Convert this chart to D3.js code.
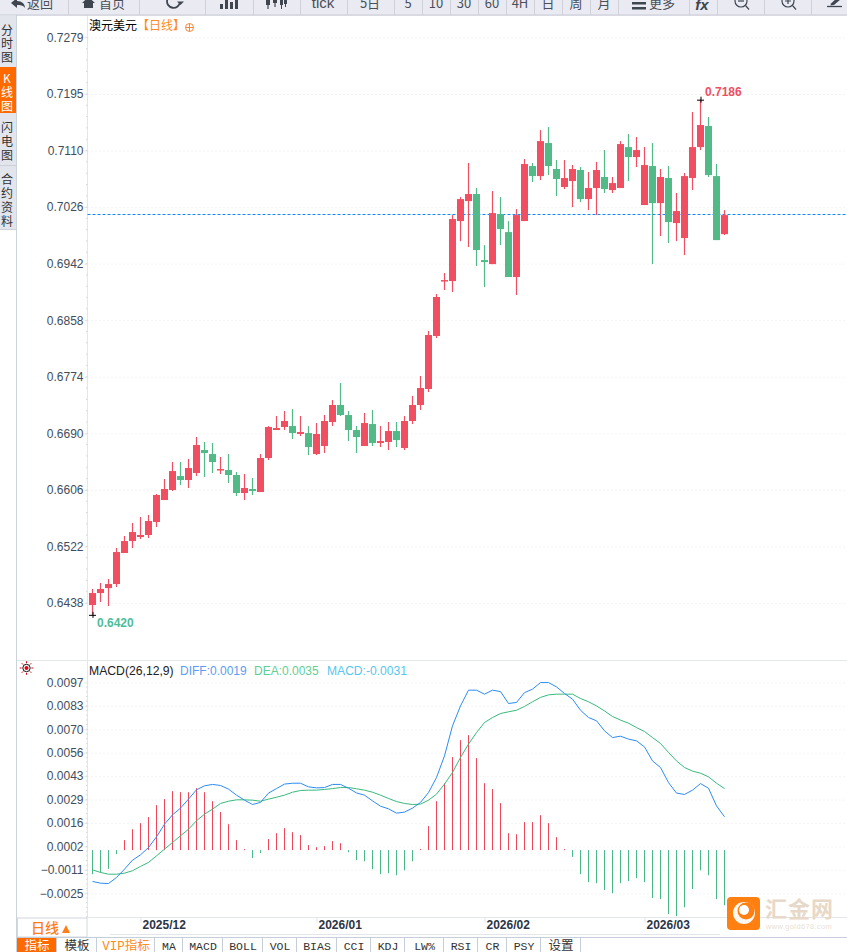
<!DOCTYPE html>
<html>
<head>
<meta charset="utf-8">
<title>澳元美元 日线</title>
<script src="https://cdn.jsdelivr.net/npm/d3@7/dist/d3.min.js"></script>
<style>
    html, body { margin: 0; padding: 0; background: #fff; overflow: hidden; }
    svg { display: block; }
    text { font-family: "Liberation Sans", Arial, sans-serif; }
    .cjk { font-family: "Noto Sans CJK SC", sans-serif; }
    .mono { font-family: "Liberation Mono", "Noto Sans CJK SC", monospace; }
    .axis path, .axis line { stroke: #dfe3e8; }
    .axis text { fill: #3f4d5c; font-size: 12px; font-family: "Liberation Sans", Arial, sans-serif; }
    .grid line { stroke: #e9e9e9; stroke-dasharray: 1 3; }
</style>
</head>
<body>
<svg id="chart" width="847" height="952"></svg>
<script>
document.addEventListener("DOMContentLoaded", function () {
    // values, one entry per trading day
    var opens = [0.64346, 0.64524, 0.64598, 0.64658, 0.65119, 0.65297, 0.65357, 0.65387, 0.65580, 0.65907,
        0.66056, 0.66264, 0.66205, 0.66309, 0.66651, 0.66591, 0.66353, 0.66353, 0.66279, 0.66011,
        0.66071, 0.66026, 0.66532, 0.66948, 0.66993, 0.67007, 0.66889, 0.66903, 0.66591, 0.66710,
        0.67067, 0.67320, 0.67171, 0.66948, 0.66710, 0.67037, 0.66755, 0.66770, 0.66933, 0.66680,
        0.67082, 0.67320, 0.67558, 0.68346, 0.69163, 0.69163, 0.70055, 0.70352, 0.70457, 0.69475,
        0.69415, 0.70159, 0.69891, 0.69223, 0.70055, 0.70873, 0.70724, 0.71215, 0.70829, 0.70561,
        0.70650, 0.70814, 0.70382, 0.70546, 0.70710, 0.70516, 0.70546, 0.71155, 0.71007, 0.70293,
        0.70873, 0.70322, 0.70695, 0.70025, 0.69802, 0.70695, 0.71155, 0.71468, 0.70724, 0.69861];
    var closes = [0.64524, 0.64584, 0.64658, 0.65134, 0.65297, 0.65431, 0.65387, 0.65595, 0.65982, 0.66071,
        0.66338, 0.66205, 0.66383, 0.66725, 0.66606, 0.66472, 0.66368, 0.66279, 0.66011, 0.66086,
        0.66041, 0.66532, 0.66993, 0.66978, 0.67082, 0.66903, 0.66918, 0.66695, 0.66889, 0.67082,
        0.67320, 0.67171, 0.66948, 0.66844, 0.67052, 0.66755, 0.66784, 0.66933, 0.66799, 0.67082,
        0.67320, 0.67573, 0.68361, 0.68926, 0.69178, 0.70085, 0.70382, 0.70457, 0.69624, 0.69445,
        0.70174, 0.69936, 0.69223, 0.70144, 0.70903, 0.70724, 0.71244, 0.70873, 0.70680, 0.70695,
        0.70829, 0.70382, 0.70546, 0.70814, 0.70531, 0.70620, 0.71200, 0.71007, 0.71111, 0.70888,
        0.70322, 0.70710, 0.70040, 0.70204, 0.70724, 0.71155, 0.71483, 0.70739, 0.69772, 0.70144];
    var highs = [0.64584, 0.64673, 0.64732, 0.65193, 0.65372, 0.65565, 0.65654, 0.65684, 0.65997, 0.66219,
        0.66472, 0.66472, 0.66517, 0.66844, 0.66770, 0.66755, 0.66547, 0.66591, 0.66324, 0.66294,
        0.66234, 0.66591, 0.67007, 0.67156, 0.67230, 0.67260, 0.67156, 0.67007, 0.67052, 0.67171,
        0.67394, 0.67647, 0.67230, 0.67007, 0.67201, 0.67245, 0.67007, 0.67067, 0.67067, 0.67156,
        0.67454, 0.67751, 0.68420, 0.68970, 0.69282, 0.70144, 0.70412, 0.70918, 0.70546, 0.69698,
        0.70501, 0.70412, 0.70055, 0.70233, 0.70977, 0.70918, 0.71408, 0.71453, 0.70962, 0.70962,
        0.70888, 0.70858, 0.70784, 0.70933, 0.71111, 0.70710, 0.71244, 0.71349, 0.71304, 0.71155,
        0.71215, 0.70829, 0.70873, 0.70472, 0.70769, 0.71676, 0.71860, 0.71602, 0.70903, 0.70218];
    var lows = [0.64200, 0.64390, 0.64331, 0.64613, 0.65119, 0.65193, 0.65327, 0.65342, 0.65506, 0.65907,
        0.66041, 0.66130, 0.66086, 0.66264, 0.66249, 0.66309, 0.66294, 0.66160, 0.65967, 0.65907,
        0.65982, 0.66026, 0.66502, 0.66948, 0.66948, 0.66814, 0.66859, 0.66576, 0.66576, 0.66606,
        0.67007, 0.67156, 0.66784, 0.66606, 0.66710, 0.66710, 0.66695, 0.66651, 0.66695, 0.66651,
        0.67037, 0.67245, 0.67513, 0.68316, 0.69030, 0.69000, 0.69757, 0.69668, 0.69386, 0.69074,
        0.69415, 0.69698, 0.69223, 0.68955, 0.70055, 0.70635, 0.70665, 0.70739, 0.70427, 0.70531,
        0.70263, 0.70337, 0.70218, 0.70144, 0.70472, 0.70472, 0.70546, 0.70650, 0.70858, 0.70293,
        0.69415, 0.69832, 0.69728, 0.69757, 0.69549, 0.70516, 0.71111, 0.70710, 0.69772, 0.69847];

    var diffValues = [-0.00181, -0.00191, -0.00193, -0.00158, -0.00110, -0.00058, -0.00027, 0.00015, 0.00077, 0.00150,
        0.00204, 0.00243, 0.00295, 0.00349, 0.00372, 0.00380, 0.00374, 0.00353, 0.00318, 0.00289,
        0.00264, 0.00276, 0.00330, 0.00356, 0.00382, 0.00387, 0.00387, 0.00366, 0.00360, 0.00362,
        0.00380, 0.00380, 0.00358, 0.00331, 0.00318, 0.00285, 0.00254, 0.00239, 0.00214, 0.00220,
        0.00243, 0.00276, 0.00333, 0.00420, 0.00545, 0.00719, 0.00834, 0.00925, 0.00925, 0.00902,
        0.00925, 0.00917, 0.00848, 0.00854, 0.00911, 0.00931, 0.00969, 0.00969, 0.00944, 0.00906,
        0.00873, 0.00809, 0.00767, 0.00748, 0.00690, 0.00651, 0.00659, 0.00642, 0.00632, 0.00597,
        0.00516, 0.00478, 0.00391, 0.00330, 0.00322, 0.00347, 0.00385, 0.00358, 0.00256, 0.00193];
    var deaValues = [-0.00114, -0.00129, -0.00139, -0.00139, -0.00133, -0.00119, -0.00094, -0.00071, -0.00033, 0.00006,
        0.00044, 0.00083, 0.00121, 0.00170, 0.00208, 0.00237, 0.00270, 0.00283, 0.00291, 0.00291,
        0.00289, 0.00283, 0.00295, 0.00306, 0.00318, 0.00335, 0.00345, 0.00347, 0.00347, 0.00351,
        0.00356, 0.00362, 0.00362, 0.00355, 0.00347, 0.00335, 0.00318, 0.00299, 0.00281, 0.00270,
        0.00264, 0.00266, 0.00289, 0.00324, 0.00382, 0.00449, 0.00536, 0.00613, 0.00680, 0.00738,
        0.00767, 0.00790, 0.00800, 0.00809, 0.00831, 0.00858, 0.00883, 0.00898, 0.00902, 0.00902,
        0.00902, 0.00877, 0.00858, 0.00834, 0.00805, 0.00773, 0.00752, 0.00734, 0.00709, 0.00686,
        0.00651, 0.00617, 0.00565, 0.00516, 0.00478, 0.00457, 0.00445, 0.00424, 0.00387, 0.00356];
    var macdValues = [-0.00139, -0.00129, -0.00108, -0.00023, 0.00058, 0.00121, 0.00156, 0.00191, 0.00260, 0.00295,
        0.00341, 0.00335, 0.00335, 0.00358, 0.00335, 0.00283, 0.00220, 0.00150, 0.00058, 0.00006,
        -0.00046, -0.00017, 0.00064, 0.00098, 0.00127, 0.00104, 0.00087, 0.00029, 0.00017, 0.00023,
        0.00052, 0.00040, -0.00012, -0.00058, -0.00064, -0.00110, -0.00139, -0.00133, -0.00145, -0.00116,
        -0.00064, 0.00006, 0.00139, 0.00283, 0.00387, 0.00538, 0.00636, 0.00665, 0.00532, 0.00387,
        0.00353, 0.00272, 0.00098, 0.00092, 0.00162, 0.00162, 0.00202, 0.00156, 0.00075, 0.00006,
        -0.00039, -0.00139, -0.00185, -0.00191, -0.00231, -0.00249, -0.00191, -0.00179, -0.00162, -0.00185,
        -0.00277, -0.00283, -0.00370, -0.00382, -0.00330, -0.00225, -0.00116, -0.00145, -0.00283, -0.00318];

    var priceTicks = [0.72786, 0.71945, 0.71104, 0.70263, 0.69422, 0.68581, 0.6774, 0.66899, 0.66058, 0.65217, 0.64376];
    var macdTicks = [0.0097, 0.008345, 0.00699, 0.005635, 0.00428, 0.002925, 0.00157, 0.000215, -0.00114, -0.002495];
    var dateTickIndex = [6, 28, 49, 69];
    var dateLabels = ["2025/12", "2026/01", "2026/02", "2026/03"];
    var lastPrice = 0.70144;
    var maxPrice = 0.7186;
    var minPrice = 0.6420;

    var toolbarEdges = [0, 68, 139, 205, 253, 300, 347, 394, 422, 450, 478, 506, 534, 562, 590, 618, 689, 717, 764, 811, 847];
    var toolbarLabels = [
        { x: 40, t: "返回" }, { x: 112, t: "首页" }, { x: 323, t: "tick", size: 15, latin: true },
        { x: 370, t: "5日" }, { x: 408, t: "5" }, { x: 436, t: "10" }, { x: 464, t: "30" }, { x: 492, t: "60" },
        { x: 520, t: "4H" }, { x: 548, t: "日" }, { x: 576, t: "周" }, { x: 604, t: "月" }, { x: 662, t: "更多" }
    ];
    var tabEdges = [17, 57, 97, 155, 183, 223, 263, 297, 337, 371, 405, 444, 478, 507, 541, 581];
    var tabLabels = ["指标", "模板", "VIP指标", "MA", "MACD", "BOLL", "VOL", "BIAS", "CCI", "KDJ", "LW%", "RSI", "CR", "PSY", "设置"];

    var red = "#ef4f60";
    var green = "#52ba87";
    var orange = "#ff6a00";
    var axisX = 87.5;
    var rightX = 847;

    var svg = d3.select("#chart");

    var x = d3.scaleLinear().domain([0, 79]).range([92.5, 724.5]);
    var yPrice = d3.scaleLinear().domain([0.64376, 0.72786]).range([603, 37.4]);
    var yMacd = d3.scaleLinear().domain([-0.002495, 0.0097]).range([893.3, 682.4]);

    // Grids
    svg.append("g").attr("class", "grid")
        .call(d3.axisLeft(yPrice).tickValues(priceTicks).tickSize(-(rightX - axisX)).tickFormat(""))
        .attr("transform", "translate(" + axisX + ",0)")
        .select(".domain").remove();
    svg.append("g").attr("class", "grid")
        .call(d3.axisLeft(yMacd).tickValues(macdTicks).tickSize(-(rightX - axisX)).tickFormat(""))
        .attr("transform", "translate(" + axisX + ",0)")
        .select(".domain").remove();

    // Panel frame lines
    var frame = svg.append("g").attr("stroke", "#e3e7ec").attr("fill", "none");
    frame.append("line").attr("x1", axisX).attr("x2", axisX).attr("y1", 15).attr("y2", 917);
    frame.append("line").attr("x1", 17).attr("x2", rightX).attr("y1", 660.5).attr("y2", 660.5);
    frame.append("line").attr("x1", 87).attr("x2", rightX).attr("y1", 917.5).attr("y2", 917.5);
    frame.append("line").attr("x1", 110).attr("x2", 720).attr("y1", 934.5).attr("y2", 934.5);
    svg.append("line").attr("x1", 16.5).attr("x2", 16.5).attr("y1", 15).attr("y2", 952).attr("stroke", "#cdd3db");

    // Y Axes
    svg.append("g").attr("class", "axis")
        .attr("transform", "translate(" + axisX + ",0)")
        .call(d3.axisLeft(yPrice).tickValues(priceTicks).tickSize(3).tickPadding(1).tickFormat(d3.format(".4f")))
        .select(".domain").remove();
    svg.append("g").attr("class", "axis")
        .attr("transform", "translate(" + axisX + ",0)")
        .call(d3.axisLeft(yMacd).tickValues(macdTicks).tickSize(3).tickPadding(1).tickFormat(d3.format(".4f")))
        .select(".domain").remove();

    // minor ticks between the labelled ones
    var priceStep = (priceTicks[0] - priceTicks[1]) / 5;
    var macdStep = (macdTicks[0] - macdTicks[1]) / 5;
    var minorPrice = d3.range(priceTicks[priceTicks.length - 1], priceTicks[0], priceStep);
    var minorMacd = d3.range(macdTicks[macdTicks.length - 1] - macdStep * 5, macdTicks[0], macdStep);
    svg.append("g").selectAll("line").data(minorPrice).enter().append("line")
        .attr("x1", axisX - 1.5).attr("x2", axisX)
        .attr("y1", function (d) { return yPrice(d); }).attr("y2", function (d) { return yPrice(d); })
        .attr("stroke", "#d5d9de");
    svg.append("g").selectAll("line").data(minorMacd).enter().append("line")
        .attr("x1", axisX - 1.5).attr("x2", axisX)
        .attr("y1", function (d) { return yMacd(d); }).attr("y2", function (d) { return yMacd(d); })
        .attr("stroke", "#d5d9de");

    // Last price line
    var lastY = Math.round(yPrice(lastPrice)) - 0.5;
    svg.append("line")
        .attr("x1", axisX).attr("x2", rightX)
        .attr("y1", lastY).attr("y2", lastY)
        .attr("stroke", "#1088ff").attr("stroke-dasharray", "3 2");

    // Candles
    var candles = svg.append("g").selectAll("g").data(d3.range(opens.length)).enter().append("g");
    function candleColor(i) { return closes[i] >= opens[i] ? red : green; }
    candles.append("line")
        .attr("x1", function (i) { return x(i); }).attr("x2", function (i) { return x(i); })
        .attr("y1", function (i) { return yPrice(highs[i]); })
        .attr("y2", function (i) { return yPrice(lows[i]); })
        .attr("stroke", candleColor).attr("stroke-width", 1.2);
    candles.append("rect")
        .attr("x", function (i) { return x(i) - 3.5; })
        .attr("width", 7)
        .attr("y", function (i) { return yPrice(Math.max(opens[i], closes[i])); })
        .attr("height", function (i) { return Math.max(1.5, Math.abs(yPrice(opens[i]) - yPrice(closes[i]))); })
        .attr("fill", candleColor);

    // High and low markers
    var iMax = highs.indexOf(maxPrice);
    var iMin = lows.indexOf(minPrice);
    [[iMax, maxPrice], [iMin, minPrice]].forEach(function (m) {
        svg.append("path")
            .attr("d", "M" + (x(m[0]) - 3.5) + "," + (yPrice(m[1]) + 0.5) + "h7M" + (x(m[0]) + 0.5) + "," + (yPrice(m[1]) - 3) + "v6")
            .attr("stroke", "#000").attr("fill", "none");
    });
    svg.append("text").attr("x", x(iMax) + 4.5).attr("y", yPrice(maxPrice) - 4)
        .attr("font-size", 12).attr("font-weight", "bold").attr("fill", red).text(maxPrice.toFixed(4));
    svg.append("text").attr("x", x(iMin) + 4.5).attr("y", yPrice(minPrice) + 12.5)
        .attr("font-size", 12).attr("font-weight", "bold").attr("fill", "#4fbd9a").text(minPrice.toFixed(4));

    // MACD bars
    svg.append("g").selectAll("line").data(macdValues).enter().append("line")
        .attr("x1", function (d, i) { return x(i); }).attr("x2", function (d, i) { return x(i); })
        .attr("y1", yMacd(0)).attr("y2", function (d) { return yMacd(d); })
        .attr("stroke", function (d) { return d >= 0 ? "#f0465a" : "#47b886"; });

    // DIFF / DEA lines
    var macdLine = d3.line().x(function (d, i) { return x(i); }).y(function (d) { return yMacd(d); });
    svg.append("path").datum(deaValues).attr("d", macdLine).attr("fill", "none").attr("stroke", "#36bb7d");
    svg.append("path").datum(diffValues).attr("d", macdLine).attr("fill", "none").attr("stroke", "#2b8cf5");

    // X Axis
    var xAxis = svg.append("g").attr("class", "axis")
        .attr("transform", "translate(0,917.5)")
        .call(d3.axisBottom(x).tickValues(dateTickIndex).tickSize(5)
            .tickFormat(function (d, i) { return dateLabels[i]; }));
    xAxis.select(".domain").remove();
    xAxis.selectAll("text")
        .attr("text-anchor", "start").attr("x", 1.5).attr("y", 3)
        .style("font-weight", "bold").style("font-size", "12px").style("fill", "#2c3445");

    // Title
    svg.append("text").attr("class", "cjk").attr("x", 89).attr("y", 30).attr("font-size", 12).attr("fill", "#000").text("澳元美元");
    svg.append("text").attr("class", "cjk").attr("x", 137).attr("y", 30).attr("font-size", 12).attr("fill", "#ff8a1e").text("【日线】");
    svg.append("circle").attr("cx", 189.5).attr("cy", 27.5).attr("r", 4).attr("fill", "none").attr("stroke", "#f58a3c");
    svg.append("path").attr("d", "M185.5,27.5h8M189.5,23.5v8").attr("stroke", "#f58a3c");

    // MACD legend
    var legend = [
        { x: 89, t: "MACD(26,12,9)", c: "#222", s: 12.2 },
        { x: 180, t: "DIFF:0.0019", c: "#5d9cf2", s: 12 },
        { x: 254, t: "DEA:0.0035", c: "#5fcf95", s: 12 },
        { x: 327, t: "MACD:-0.0031", c: "#58c6ee", s: 12.1 }
    ];
    svg.append("g").selectAll("text").data(legend).enter().append("text")
        .attr("x", function (d) { return d.x; }).attr("y", 675)
        .attr("font-size", function (d) { return d.s; }).attr("fill", function (d) { return d.c; })
        .text(function (d) { return d.t; });

    // settings sun icon
    var sun = svg.append("g").attr("transform", "translate(26.5,668)");
    sun.append("circle").attr("r", 2).attr("fill", "#e60012");
    sun.append("circle").attr("r", 3.7).attr("fill", "none").attr("stroke", "#111");
    d3.range(8).forEach(function (k) {
        var a = k * Math.PI / 4;
        sun.append("line")
            .attr("x1", 4.8 * Math.cos(a)).attr("y1", 4.8 * Math.sin(a))
            .attr("x2", 6.8 * Math.cos(a)).attr("y2", 6.8 * Math.sin(a))
            .attr("stroke", "#e60012");
    });

    // Toolbar
    var toolbar = svg.append("g");
    toolbar.append("rect").attr("width", 847).attr("height", 15).attr("fill", "#e9eaf2");
    toolbar.append("rect").attr("y", 14.5).attr("width", 847).attr("height", 1.2).attr("fill", "#c9cbd5");
    toolbar.selectAll("line").data(toolbarEdges.slice(1, -1)).enter().append("line")
        .attr("x1", function (d) { return d + 0.5; }).attr("x2", function (d) { return d + 0.5; })
        .attr("y1", 0).attr("y2", 15).attr("stroke", "#cfd0da");
    toolbar.selectAll("text").data(toolbarLabels).enter().append("text")
        .attr("class", function (d) { return d.latin ? null : "cjk"; })
        .attr("x", function (d) { return d.x; }).attr("y", 8)
        .attr("text-anchor", "middle").attr("font-size", function (d) { return d.size || 13; })
        .attr("fill", "#4a5058").text(function (d) { return d.t; });

    var icon = toolbar.append("g").attr("fill", "#3f4650").attr("stroke", "none");
    icon.append("path").attr("d", "M11,3L17,-2V1C22,1 25,4 25,8C23,5 20,5 17,5V8Z");
    icon.append("path").attr("d", "M82,3L88.5,-3L95,3H93V8H84V3Z");
    icon.append("path").attr("d", "M180,2A6.5,6.5,0,1,1,175,-5").attr("fill", "none").attr("stroke", "#3f4650").attr("stroke-width", 1.8);
    icon.append("path").attr("d", "M177,1.5H184L180.5,5Z");
    icon.append("path").attr("d", "M220,9V4H223V9ZM225,9V0H228V9ZM230,9V2H233V9ZM235,9V-2H238V9Z");
    icon.append("path").attr("d", "M266,0H270V5H266ZM267.4,5H268.6V9H267.4ZM273,0H277V3H273ZM274.4,3H275.6V7H274.4ZM280,0H283V5H280ZM281,5H282V9H281ZM284,0H287V4H284ZM285,4H286V7H285Z");
    icon.append("path").attr("d", "M632,2H646V4.5H632ZM632,7H646V9.5H632Z");
    toolbar.append("text").attr("x", 702).attr("y", 10).attr("text-anchor", "middle")
        .attr("font-size", 15).attr("font-weight", "bold").attr("font-style", "italic")
        .attr("font-family", "Liberation Serif").attr("fill", "#3f4650").text("fx");
    [[741, false], [788, true]].forEach(function (m) {
        var g = toolbar.append("g").attr("transform", "translate(" + m[0] + ",1)").attr("fill", "none").attr("stroke", "#3f4650").attr("stroke-width", 1.2);
        g.append("circle").attr("r", 6);
        g.append("path").attr("d", m[1] ? "M-3,0H3M0,-3V3" : "M-3,0H3");
        g.append("path").attr("d", "M4.5,4.5L8,8.5");
    });
    toolbar.append("path").attr("d", "M827,6.5H842").attr("stroke", "#3f4650").attr("stroke-width", 1.3);
    toolbar.append("path").attr("d", "M831,3.5L838,-3L841,-1L834,5L830.5,5.5Z").attr("fill", "#3f4650");

    // Left side tabs
    var side = svg.append("g");
    side.append("rect").attr("y", 15.5).attr("width", 16).attr("height", 214).attr("fill", "#e3e5ed");
    side.append("rect").attr("y", 67).attr("width", 16).attr("height", 46).attr("fill", orange);
    [165.5, 229.5].forEach(function (yy) {
        side.append("line").attr("x1", 0).attr("x2", 16).attr("y1", yy).attr("y2", yy).attr("stroke", "#cdd0d8");
    });
    var sideChars = [
        { t: "分", y: 30 }, { t: "时", y: 43 }, { t: "图", y: 57 },
        { t: "K", y: 78, c: "#fff" }, { t: "线", y: 92, c: "#fff" }, { t: "图", y: 106, c: "#fff" },
        { t: "闪", y: 127 }, { t: "电", y: 141 }, { t: "图", y: 155 },
        { t: "合", y: 179 }, { t: "约", y: 193 }, { t: "资", y: 207 }, { t: "料", y: 221 }
    ];
    side.selectAll("text").data(sideChars).enter().append("text")
        .attr("class", "cjk").attr("x", 7).attr("y", function (d) { return d.y + 4.5; })
        .attr("text-anchor", "middle").attr("font-size", 12)
        .attr("fill", function (d) { return d.c || "#333"; }).text(function (d) { return d.t; });

    // Period box
    svg.append("rect").attr("x", 17.5).attr("y", 918).attr("width", 69.5).attr("height", 19)
        .attr("fill", "#fff").attr("stroke", "#cfd6dd");
    svg.append("text").attr("class", "cjk").attr("x", 31).attr("y", 933).attr("font-size", 14).attr("font-weight", 500)
        .attr("fill", "#ff7e1a").text("日线");
    svg.append("path").attr("d", "M62,933L66,925L70,933Z").attr("fill", "#ff7e1a");

    // Bottom tabs
    var tabs = svg.append("g");
    tabs.append("line").attr("x1", 17).attr("x2", rightX).attr("y1", 937.5).attr("y2", 937.5).attr("stroke", "#c6cfd9");
    tabs.append("rect").attr("x", 17).attr("y", 938).attr("width", 39).attr("height", 14).attr("fill", orange);
    tabs.selectAll("line.sep").data(tabEdges.slice(1)).enter().append("line").attr("class", "sep")
        .attr("x1", function (d) { return d - 0.5; }).attr("x2", function (d) { return d - 0.5; })
        .attr("y1", 938).attr("y2", 952).attr("stroke", "#c6cfd9");
    tabs.selectAll("text").data(tabLabels).enter().append("text")
        .attr("class", function (d) { return /^[A-Z%]+$/.test(d) || d === "VIP指标" ? "mono" : "cjk"; })
        .attr("x", function (d, i) { return (tabEdges[i] + tabEdges[i + 1]) / 2; }).attr("y", 949.5)
        .attr("text-anchor", "middle")
        .attr("font-size", function (d) { return /^[A-Z%]+$/.test(d) ? 11.5 : 12.5; })
        .attr("fill", function (d, i) { return i === 0 ? "#fff" : (i === 2 ? "#ff8a1e" : "#333"); })
        .text(function (d) { return d; });

    // Watermark
    svg.append("rect").attr("x", 727).attr("y", 897).attr("width", 33).attr("height", 33).attr("rx", 4).attr("fill", "#ff7f11");
    svg.append("circle").attr("cx", 744).attr("cy", 913).attr("r", 11).attr("fill", "#fff").attr("opacity", 0.95);
    svg.append("circle").attr("cx", 746).attr("cy", 911).attr("r", 8.5).attr("fill", "#ff7f11");
    svg.append("circle").attr("cx", 744).attr("cy", 910).attr("r", 5).attr("fill", "#fff");
    svg.append("text").attr("class", "cjk").attr("x", 765).attr("y", 917).attr("font-size", 22).attr("letter-spacing", 1)
        .attr("font-weight", "bold").attr("fill", "#e8d8c8").text("汇金网");
    svg.append("text").attr("x", 766).attr("y", 929).attr("font-size", 7.5).attr("letter-spacing", 0.35)
        .attr("fill", "#eadfd4").text("www.gold678.com");
});
</script>
</body>
</html>
